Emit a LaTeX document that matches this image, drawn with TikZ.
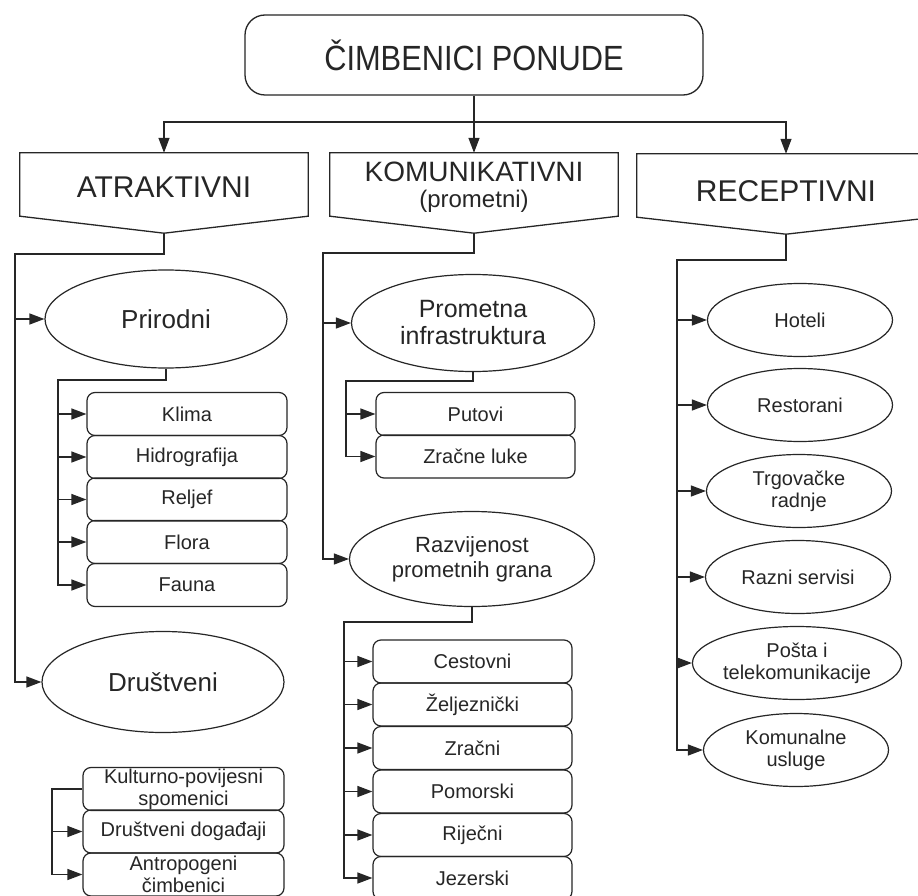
\documentclass[tikz,border=0pt]{standalone}
\usepackage{fontspec}
\setmainfont{Liberation Sans}
\newfontfamily\narrowfont[FakeStretch=0.88]{Liberation Sans}
\usetikzlibrary{shapes.geometric,arrows.meta,calc}
\definecolor{ink}{RGB}{38,38,38}
\tikzset{
  conn/.style={draw=ink, line width=1.3pt},
  arr/.style={conn, -{Triangle[length=15pt,width=11pt]}},
  oval/.style={ellipse, draw=ink, line width=1.2pt, inner sep=0pt, align=center, text=ink},
  ovalR/.style={oval, minimum width=185pt, minimum height=73pt, font=\fontsize{20}{22}\selectfont},
  sbox/.style={rectangle, rounded corners=8pt, draw=ink, line width=1.2pt, minimum width=200pt, minimum height=43pt, inner sep=0pt, align=center, font=\fontsize{20}{22}\selectfont, text=ink},
  hdr/.style={rectangle, inner sep=0pt, minimum width=288pt, minimum height=63pt},
  htxt/.style={text=ink, inner sep=0pt, anchor=base},
}
\begin{document}
\begin{tikzpicture}[x=1pt,y=-1pt]
\fill[white] (0,0) rectangle (918,896);
\useasboundingbox (0,0) rectangle (918,896);
\clip (0,0) rectangle (918,896);

% title
\node[rectangle, rounded corners=20pt, draw=ink, line width=1.3pt, minimum width=458pt, minimum height=80pt, inner sep=0pt, text=ink, font=\narrowfont\fontsize{35}{40}\selectfont] (title) at (474,55) {ČIMBENICI PONUDE};

% headers
\node[hdr] (hA) at (164,184.5) {};
\node[hdr] (hK) at (474,184.5) {};
\node[hdr, minimum width=298pt] (hR) at (786,185.5) {};
\foreach \h in {hA,hK,hR}{
  \draw[conn] (\h.north west) -- (\h.north east) -- (\h.south east) -- ($(\h.south)+(0,17)$) -- (\h.south west) -- cycle;
  \coordinate (\h tip) at ($(\h.south)+(0,17)$);
}
\node[htxt, font=\fontsize{30}{32}\selectfont] (tA) at (164,197) {ATRAKTIVNI};
\node[htxt, font=\fontsize{28}{30}\selectfont] (tK1) at (474,182) {KOMUNIKATIVNI};
\node[htxt, font=\fontsize{24}{26}\selectfont] (tK2) at (474,207.5) {(prometni)};
\node[htxt, font=\fontsize{30}{32}\selectfont] (tR) at (786,201) {RECEPTIVNI};

% title connectors
\coordinate (split) at (474,122);
\draw[conn] (title.south) -- (split);
\draw[arr] (split) -| (hA.north);
\draw[arr] (split) -- (hK.north);
\draw[arr] (split) -| (hR.north);

% ---------- ATRAKTIVNI ----------
\node[oval, minimum width=242pt, minimum height=98pt, font=\fontsize{26}{28}\selectfont] (pri) at (166,319) {Prirodni};
\node[oval, minimum width=242pt, minimum height=101pt, font=\fontsize{26}{28}\selectfont] (dru) at (163,682) {Društveni};
\node[sbox] (kli) at (187,414) {Klima};
\node[sbox] (hid) at (187,457) {Hidrografija};
\node[sbox] (rel) at (187,499.5) {Reljef};
\node[sbox] (flo) at (187,542) {Flora};
\node[sbox] (fau) at (187,585) {Fauna};
\node[sbox, minimum width=201pt] (kul) at (183.5,789) {Kulturno-povijesni\\spomenici};
\node[sbox, minimum width=201pt] (dog) at (183.5,831.5) {Društveni događaji};
\node[sbox, minimum width=201pt] (ant) at (183.5,874.5) {Antropogeni\\čimbenici};

\coordinate (ra) at (15,254);
\draw[arr] (hAtip) |- (ra) |- (dru.west);
\draw[arr] (ra |- pri.west) -- (pri.west);

\coordinate (rp) at (58,380);
\draw[arr] (pri.south) |- (rp) |- (fau.west);
\foreach \n in {kli,hid,rel,flo}{\draw[arr] (rp |- \n.west) -- (\n.west);}

\coordinate (rd) at (52,789);
\draw[arr] (kul.west) -- (rd) |- (ant.west);
\draw[arr] (rd |- dog.west) -- (dog.west);

% ---------- KOMUNIKATIVNI ----------
\node[oval, minimum width=243pt, minimum height=97pt, font=\fontsize{25}{27}\selectfont] (prom) at (473,323) {Prometna\\infrastruktura};
\node[oval, minimum width=245pt, minimum height=95pt, font=\fontsize{22}{25}\selectfont] (raz) at (472,559) {Razvijenost\\prometnih grana};
\node[sbox, minimum width=199pt] (put) at (475.5,414) {Putovi};
\node[sbox, minimum width=199pt] (zl) at (475.5,456.5) {Zračne luke};
\node[sbox, minimum width=199pt] (ces) at (472.5,661.5) {Cestovni};
\node[sbox, minimum width=199pt] (zel) at (472.5,704.5) {Željeznički};
\node[sbox, minimum width=199pt] (zra) at (472.5,748) {Zračni};
\node[sbox, minimum width=199pt] (pom) at (472.5,791.5) {Pomorski};
\node[sbox, minimum width=199pt] (rij) at (472.5,835) {Riječni};
\node[sbox, minimum width=199pt] (jez) at (472.5,878) {Jezerski};

\coordinate (rk) at (323,253);
\draw[arr] (hKtip) |- (rk) |- (raz.west);
\draw[arr] (rk |- prom.west) -- (prom.west);

\coordinate (rpi) at (346,381);
\draw[arr] (prom.south) |- (rpi) |- (zl.west);
\draw[arr] (rpi |- put.west) -- (put.west);

\coordinate (rr) at (344,622);
\draw[arr] (raz.south) |- (rr) |- (jez.west);
\foreach \n in {ces,zel,zra,pom,rij}{\draw[arr] (rr |- \n.west) -- (\n.west);}

% ---------- RECEPTIVNI ----------
\node[ovalR] (hot) at (800,320) {Hoteli};
\node[ovalR] (res) at (800,405) {Restorani};
\node[ovalR] (trg) at (799,491) {Trgovačke\\radnje};
\node[ovalR] (raS) at (798,577) {Razni servisi};
\node[ovalR] (pos) at (797,663) {Pošta i\\telekomunikacije};
\node[ovalR] (kmu) at (796,750) {Komunalne\\usluge};

\coordinate (rc) at (677,260);
\draw[arr] (hRtip) |- (rc) |- (kmu.west);
\foreach \n in {hot,res,trg,raS,pos}{\draw[arr] (rc |- \n.west) -- (\n.west);}
\end{tikzpicture}
\end{document}
